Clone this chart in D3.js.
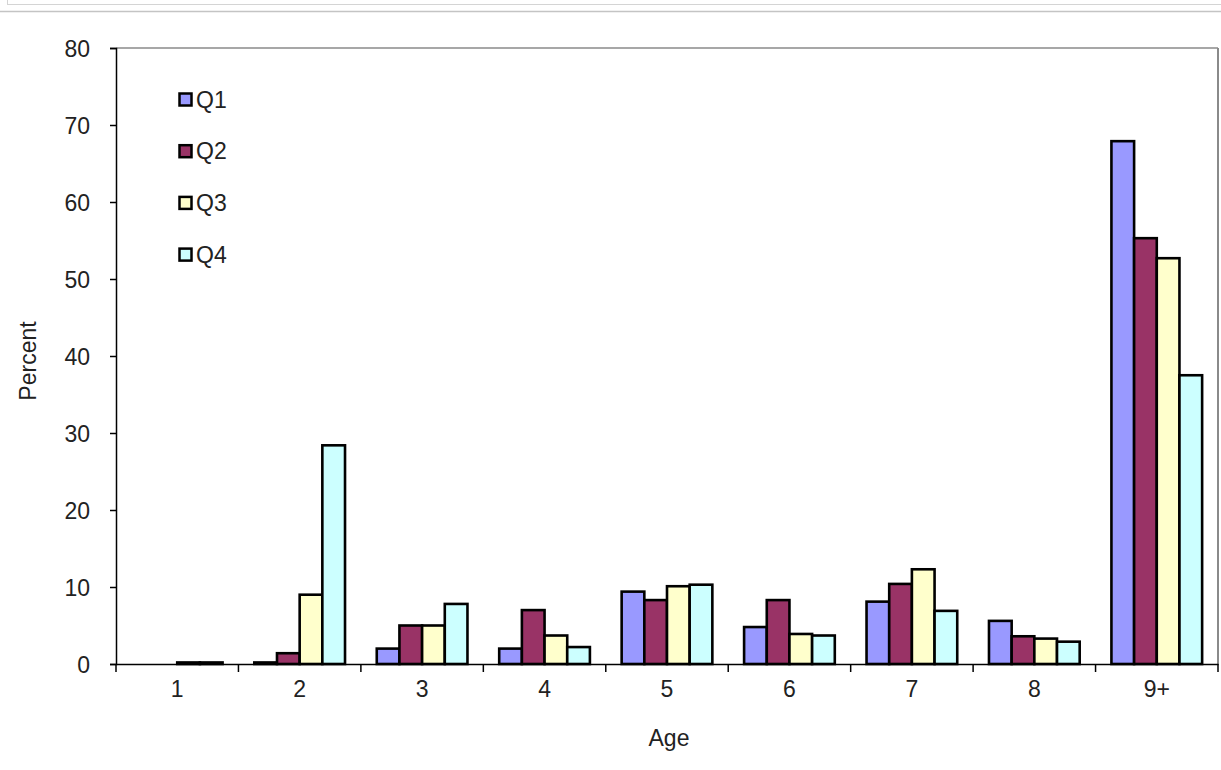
<!DOCTYPE html>
<html><head><meta charset="utf-8">
<script src="https://cdn.jsdelivr.net/npm/d3@7"></script>
<style>body{margin:0;background:#fff}svg{display:block}text{font-family:"Liberation Sans",Arial,sans-serif}</style>
</head><body>
<script>
const categories = ["1","2","3","4","5","6","7","8","9+"];
const seriesNames = ["Q1","Q2","Q3","Q4"];
const q1 = [0, 0.2, 2.0, 2.0, 9.4, 4.8, 8.1, 5.6, 67.9];
const q2 = [0, 1.4, 5.0, 7.0, 8.3, 8.3, 10.4, 3.6, 55.3];
const q3 = [0.2, 9.0, 5.0, 3.7, 10.1, 3.9, 12.3, 3.3, 52.7];
const q4 = [0.2, 28.4, 7.8, 2.2, 10.3, 3.7, 6.9, 2.9, 37.5];
const colors = ["#9999FF","#993366","#FFFFCC","#CCFFFF"];
const yTicks = [0,10,20,30,40,50,60,70,80];

const W=1221,H=770;
const FS=23;
const svg=d3.select("body").append("svg").attr("width",W).attr("height",H);
// frame lines at top
svg.append("line").attr("x1",7).attr("x2",W).attr("y1",4.5).attr("y2",4.5).attr("stroke","#d4d4d4");
svg.append("line").attr("x1",7.5).attr("x2",7.5).attr("y1",0).attr("y2",4.5).attr("stroke","#d4d4d4");
svg.append("line").attr("x1",0).attr("x2",W).attr("y1",11.5).attr("y2",11.5).attr("stroke","#c4c4c4").attr("stroke-width",1.5);

const L=116,R=1218,T=48,B=664;
const x=d3.scaleBand().domain(categories).range([L,R]);
const inner=x.bandwidth()/5.4;
const xs=d3.scaleBand().domain(seriesNames).range([0,inner*4]);
const y=d3.scaleLinear().domain([0,80]).range([B,T]);
const data=[q1,q2,q3,q4];

// plot border top/right
svg.append("line").attr("x1",L).attr("x2",R).attr("y1",T).attr("y2",T).attr("stroke","#8a8a8a").attr("stroke-width",1.5);
svg.append("line").attr("x1",R).attr("x2",R).attr("y1",T).attr("y2",B).attr("stroke","#8a8a8a").attr("stroke-width",2);

// bars
const offset=(x.bandwidth()-inner*4)/2;
seriesNames.forEach((s,si)=>{
  svg.append("g").selectAll("rect").data(categories).join("rect")
    .attr("x",c=>x(c)+offset+xs(s))
    .attr("y",(c,i)=>y(data[si][i]))
    .attr("width",xs.bandwidth())
    .attr("height",(c,i)=>B-y(data[si][i]))
    .attr("fill",colors[si]).attr("stroke","#000").attr("stroke-width",2.6);
});

// y axis
const ya=svg.append("g").attr("transform",`translate(${L},0)`)
  .call(d3.axisLeft(y).tickValues(yTicks).tickSize(6).tickPadding(20));
ya.select(".domain").attr("stroke","#000").attr("stroke-width",1.5);
ya.selectAll(".tick line").attr("stroke","#000").attr("stroke-width",1.5);
ya.selectAll("text").attr("font-size",FS).attr("fill","#222").attr("font-family","Liberation Sans, Arial, sans-serif").attr("dy","0.36em");

// x axis
const xa=svg.append("g").attr("transform",`translate(0,${B})`)
  .call(d3.axisBottom(x).tickSize(0).tickPadding(17));
xa.select(".domain").attr("stroke","#000").attr("stroke-width",1.5);
xa.selectAll("text").attr("font-size",FS).attr("fill","#222").attr("font-family","Liberation Sans, Arial, sans-serif");
svg.append("g").selectAll("line").data(categories.concat(["end"])).join("line")
  .attr("x1",(c,i)=>i<categories.length?x(c):R).attr("x2",(c,i)=>i<categories.length?x(c):R)
  .attr("y1",B).attr("y2",B+8).attr("stroke","#000").attr("stroke-width",1.5);

// axis titles
svg.append("text").attr("x",(L+R)/2+2).attr("y",746).attr("text-anchor","middle").attr("font-size",FS).attr("fill","#222").text("Age");
svg.append("text").attr("transform",`translate(36,${361}) rotate(-90)`).attr("text-anchor","middle").attr("font-size",FS).attr("fill","#222").text("Percent");

// legend
const lg=svg.append("g");
seriesNames.forEach((s,i)=>{
  const cy=99.5+i*51.7;
  lg.append("rect").attr("x",179.5).attr("y",cy-6).attr("width",12).attr("height",12).attr("fill",colors[i]).attr("stroke","#000").attr("stroke-width",2.5);
  lg.append("text").attr("x",196).attr("y",cy+8).attr("font-size",FS).attr("fill","#222").text(s);
});
</script>
</body></html>
